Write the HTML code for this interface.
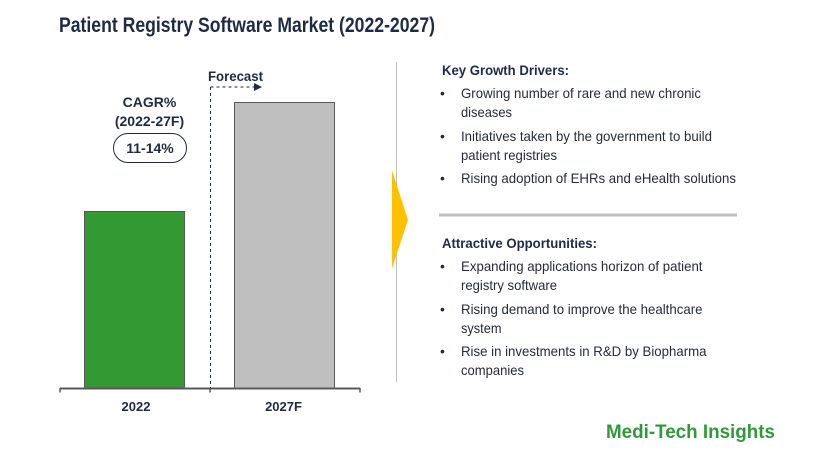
<!DOCTYPE html>
<html>
<head>
<meta charset="utf-8">
<style>
html,body{margin:0;padding:0;background:#ffffff;}
svg{display:block;}
text{font-family:"Liberation Sans",Arial,sans-serif;}
</style>
</head>
<body>
<svg width="818" height="471" viewBox="0 0 818 471" xmlns="http://www.w3.org/2000/svg">
  <rect width="818" height="471" fill="#ffffff"/>
  <!-- Title -->
  <text x="59" y="32" font-size="21" font-weight="bold" fill="#1f2a44" textLength="376" lengthAdjust="spacingAndGlyphs">Patient Registry Software Market (2022-2027)</text>

  <!-- Bars -->
  <rect x="84.5" y="211.5" width="100" height="177" fill="#339933" stroke="#595959" stroke-width="1"/>
  <rect x="234.5" y="102.5" width="100" height="286" fill="#bfbfbf" stroke="#595959" stroke-width="1"/>

  <!-- Axis -->
  <line x1="60" y1="388.5" x2="360" y2="388.5" stroke="#595959" stroke-width="2"/>
  <line x1="60" y1="388" x2="60" y2="392.5" stroke="#595959" stroke-width="1.5"/>
  <line x1="210" y1="388" x2="210" y2="392.5" stroke="#595959" stroke-width="1.5"/>
  <line x1="360" y1="388" x2="360" y2="392.5" stroke="#595959" stroke-width="1.5"/>
  <text x="136" y="411" font-size="13" font-weight="bold" fill="#1f2a44" text-anchor="middle">2022</text>
  <text x="283.5" y="411" font-size="13" font-weight="bold" fill="#1f2a44" text-anchor="middle">2027F</text>

  <!-- Forecast dashed arrow -->
  <line x1="210.5" y1="87" x2="210.5" y2="388" stroke="#1f2a44" stroke-width="1" stroke-dasharray="3,3"/>
  <line x1="210.5" y1="87" x2="254" y2="87" stroke="#1f2a44" stroke-width="1" stroke-dasharray="3,3"/>
  <polygon points="254,83 262,87 254,91" fill="#1f2a44"/>
  <text x="208" y="81" font-size="14" font-weight="bold" fill="#1f2a44" textLength="55" lengthAdjust="spacingAndGlyphs">Forecast</text>

  <!-- CAGR -->
  <text x="149.5" y="107" font-size="14" font-weight="bold" fill="#1f2a44" text-anchor="middle">CAGR%</text>
  <text x="149.5" y="126" font-size="14" font-weight="bold" fill="#1f2a44" text-anchor="middle">(2022-27F)</text>
  <rect x="113.5" y="133.5" width="73" height="29" rx="14.5" ry="14.5" fill="#ffffff" stroke="#1f2a44" stroke-width="1"/>
  <text x="150" y="153" font-size="14" font-weight="bold" fill="#1f2a44" text-anchor="middle">11-14%</text>

  <!-- Divider & arrow -->
  <line x1="396.5" y1="62" x2="396.5" y2="382" stroke="#bfbfbf" stroke-width="1"/>
  <polygon points="392,170.5 408,220 392,268.5" fill="#ffc000"/>

  <!-- Key Growth Drivers -->
  <g fill="#262b3b" font-size="14">
    <text x="442" y="75" font-weight="bold" fill="#1f2a44" textLength="127" lengthAdjust="spacingAndGlyphs">Key Growth Drivers:</text>
    <text x="440" y="98">•</text>
    <text x="461" y="98" textLength="240" lengthAdjust="spacingAndGlyphs">Growing number of rare and new chronic</text>
    <text x="461" y="117" textLength="51" lengthAdjust="spacingAndGlyphs">diseases</text>
    <text x="440" y="141">•</text>
    <text x="461" y="141" textLength="251" lengthAdjust="spacingAndGlyphs">Initiatives taken by the government to build</text>
    <text x="461" y="160" textLength="96" lengthAdjust="spacingAndGlyphs">patient registries</text>
    <text x="440" y="183">•</text>
    <text x="461" y="183" textLength="275" lengthAdjust="spacingAndGlyphs">Rising adoption of EHRs and eHealth solutions</text>
  </g>
  <line x1="439" y1="215" x2="737" y2="215" stroke="#bfbfbf" stroke-width="3"/>

  <!-- Attractive Opportunities -->
  <g fill="#262b3b" font-size="14">
    <text x="442" y="248" font-weight="bold" fill="#1f2a44" textLength="155" lengthAdjust="spacingAndGlyphs">Attractive Opportunities:</text>
    <text x="440" y="271">•</text>
    <text x="461" y="271" textLength="241.5" lengthAdjust="spacingAndGlyphs">Expanding applications horizon of patient</text>
    <text x="461" y="290" textLength="96" lengthAdjust="spacingAndGlyphs">registry software</text>
    <text x="440" y="314">•</text>
    <text x="461" y="314" textLength="241.5" lengthAdjust="spacingAndGlyphs">Rising demand to improve the healthcare</text>
    <text x="461" y="333" textLength="40.5" lengthAdjust="spacingAndGlyphs">system</text>
    <text x="440" y="356">•</text>
    <text x="461" y="356" textLength="245.5" lengthAdjust="spacingAndGlyphs">Rise in investments in R&amp;D by Biopharma</text>
    <text x="461" y="375" textLength="63" lengthAdjust="spacingAndGlyphs">companies</text>
  </g>

  <!-- Logo -->
  <text x="606" y="438" font-size="19" font-weight="bold" fill="#2f9a3a" textLength="169" lengthAdjust="spacingAndGlyphs">Medi-Tech Insights</text>
</svg>
</body>
</html>
